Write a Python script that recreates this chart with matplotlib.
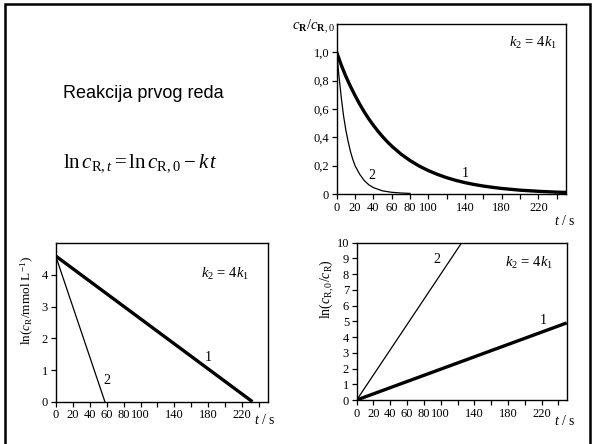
import matplotlib
matplotlib.use("Agg")
import matplotlib.pyplot as plt
from matplotlib.patches import Rectangle

plt.rcParams['font.family'] = ['Liberation Serif', 'DejaVu Serif']
plt.rcParams['mathtext.fontset'] = 'custom'
plt.rcParams['mathtext.rm'] = 'Liberation Serif'
plt.rcParams['mathtext.it'] = 'Liberation Serif:italic'
plt.rcParams['mathtext.bf'] = 'Liberation Serif:bold'

# ---- data ----
t1 = [0, 5, 10, 15, 20, 25, 30, 35, 40, 45, 50, 55, 60, 70, 80, 90, 100, 110,
      120, 130, 140, 150, 160, 170, 180, 190, 200, 210, 220, 230, 240, 250]
c1 = [1.0, 0.91, 0.83, 0.76, 0.695, 0.635, 0.58, 0.53, 0.485, 0.443, 0.405,
      0.37, 0.338, 0.282, 0.236, 0.197, 0.165, 0.138, 0.115, 0.096, 0.08,
      0.067, 0.056, 0.047, 0.039, 0.033, 0.027, 0.023, 0.019, 0.016, 0.013,
      0.011]
t2 = [0, 2.5, 5, 7.5, 10, 12.5, 15, 17.5, 20, 25, 30, 35, 40, 50, 60, 70, 80]
c2 = [1.0, 0.83, 0.68, 0.55, 0.45, 0.37, 0.30, 0.245, 0.20, 0.14, 0.095,
      0.065, 0.045, 0.022, 0.012, 0.007, 0.004]

ln_t1 = [0, 232]
ln_c1 = [4.6, 0.0]
ln_t2 = [0, 58]
ln_c2 = [4.6, 0.0]

lr_t1 = [0, 250]
lr_v1 = [0.0, 4.9]
lr_t2 = [0, 125]
lr_v2 = [0.0, 10.0]

x_ticks = [0, 20, 40, 60, 80, 100, 120, 140, 160, 180, 200, 220, 240]
x_ticklabels = ['0', '20', '40', '60', '80', '100', '', '140', '', '180', '', '220', '']
ratio_ticks = [0, 0.2, 0.4, 0.6, 0.8, 1.0]
ratio_ticklabels = ['0', '0,2', '0,4', '0,6', '0,8', '1,0']
lnc_ticks = [0, 1, 2, 3, 4]
lnr_ticks = list(range(0, 11))

W, H = 594, 444
fig = plt.figure(figsize=(W / 100, H / 100), dpi=100)

def px(x0, y0, x1, y1):
    return [x0 / W, 1 - y1 / H, (x1 - x0) / W, (y1 - y0) / H]

def style(ax):
    for s in ax.spines.values():
        s.set_linewidth(1.0)
    ax.tick_params(direction='out', length=3.5, width=0.9, labelsize=9, pad=2)
    ax.set_xlim(0, 250)
    ax.set_xticks(x_ticks)
    ax.set_xticklabels(x_ticklabels)

def ftext(x, y, s, **kw):
    fig.text(x / W, 1 - y / H, s, **kw)

# frame
fig.patches.append(Rectangle((5 / W, -0.1), (590 - 5) / W, 1.1 - 4.5 / H,
                             transform=fig.transFigure, fill=False,
                             edgecolor='black', linewidth=1.8))

# top-right: concentration ratio
ax1 = fig.add_axes(px(336.7, 24, 566, 194))
style(ax1)
ax1.plot(t1, c1, color='black', lw=2.4, solid_joinstyle='round')
ax1.plot(t2, c2, color='black', lw=0.9)
ax1.set_ylim(0, 1.2)
ax1.set_yticks(ratio_ticks)
ax1.set_yticklabels(ratio_ticklabels)
ftext(335, 27, r'$c_{\mathbf{R}}/c_{\mathbf{R},0}$', ha='right', va='center', fontsize=10.5)
ftext(565, 221, r'$t$ / s', ha='center', va='center', fontsize=10)
ftext(533, 43, r'$k_2\,=\,4k_1$', ha='center', va='center', fontsize=10.5)
ftext(465, 173, '1', ha='center', va='center', fontsize=10)
ftext(372, 175, '2', ha='center', va='center', fontsize=10)

# bottom-left: ln c
ax2 = fig.add_axes(px(55.7, 243.3, 267.7, 401.7))
style(ax2)
ax2.plot(ln_t1, ln_c1, color='black', lw=2.4, solid_capstyle='butt')
ax2.plot(ln_t2, ln_c2, color='black', lw=0.9)
ax2.set_ylim(0, 5)
ax2.set_yticks(lnc_ticks)
ftext(27, 300, r'ln($c_{\mathrm{R}}$/mmol L$^{-1}$)', ha='center', va='center',
      rotation=90, fontsize=9.5)
ftext(265, 420, r'$t$ / s', ha='center', va='center', fontsize=10)
ftext(225, 274, r'$k_2\,=\,4k_1$', ha='center', va='center', fontsize=10.5)
ftext(208, 357, '1', ha='center', va='center', fontsize=10)
ftext(107, 380, '2', ha='center', va='center', fontsize=10)

# bottom-right: ln(c0/c)
ax3 = fig.add_axes(px(356.7, 242.7, 566.7, 400))
style(ax3)
ax3.plot(lr_t1, lr_v1, color='black', lw=2.4, solid_capstyle='butt')
ax3.plot(lr_t2, lr_v2, color='black', lw=0.9)
ax3.set_ylim(0, 10)
ax3.set_yticks(lnr_ticks)
ftext(327, 289, r'ln($c_{\mathrm{R},0}$/$c_{\mathrm{R}}$)', ha='center', va='center',
      rotation=90, fontsize=10)
ftext(565, 421, r'$t$ / s', ha='center', va='center', fontsize=10)
ftext(529, 263, r'$k_2\,=\,4k_1$', ha='center', va='center', fontsize=10.5)
ftext(543, 320, '1', ha='center', va='center', fontsize=10)
ftext(437, 259, '2', ha='center', va='center', fontsize=10)

# left text
ftext(143, 93, 'Reakcija prvog reda', ha='center', va='center', fontsize=13,
      family='Liberation Sans')
ftext(141, 163, r'$\mathrm{ln}\,c_{\mathrm{R},t} = \mathrm{ln}\,c_{\mathrm{R},0} - k\,t$',
      ha='center', va='center', fontsize=15)

fig.savefig('out.png', dpi=100)
